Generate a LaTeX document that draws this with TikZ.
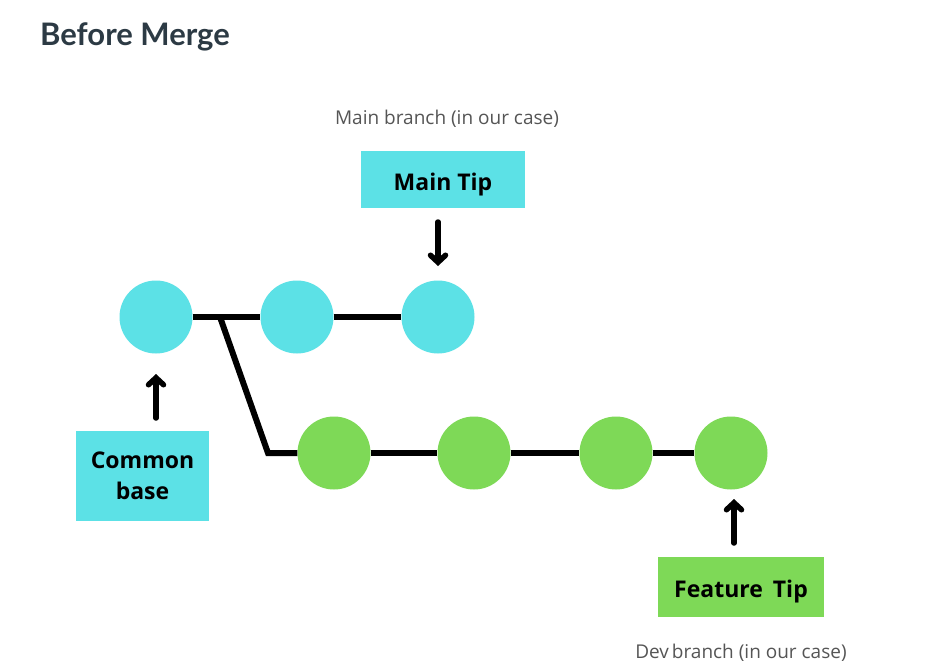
\documentclass[tikz,border=0pt]{standalone}
\usepackage{fontspec}
\setmainfont{Open Sans}
\newfontfamily\titlefont{Lato}
\usetikzlibrary{arrows.meta}
\definecolor{tcyan}{HTML}{5CE1E6}
\definecolor{tgreen}{HTML}{7ED957}
\definecolor{titlecol}{HTML}{2C3A44}
\definecolor{notecol}{HTML}{555555}
\begin{document}
\begin{tikzpicture}[x=1pt,y=-1pt,
  commit/.style={circle,minimum size=73pt,inner sep=0pt},
  cyancommit/.style={commit,fill=tcyan},
  greencommit/.style={commit,fill=tgreen},
  tagbox/.style={inner sep=0pt,font=\fontsize{23}{31}\selectfont\bfseries,align=center},
  note/.style={font=\fontsize{19}{22}\selectfont,text=notecol},
  branch/.style={line width=6pt},
  pointer/.style={line width=5.5pt,line cap=round,-{Straight Barb[length=7pt,width=15pt,line cap=round]}}
]
\useasboundingbox (0,0) rectangle (946,667);
\fill[white] (0,0) rectangle (946,667);

\node[anchor=base west,font=\titlefont\fontsize{31}{34}\selectfont\bfseries,text=titlecol,inner sep=0pt] (title) at (40,45) {Before Merge};

% commits
\node[cyancommit] (c1) at (156,317) {};
\node[cyancommit] (c2) at (297,317) {};
\node[cyancommit] (c3) at (438,317) {};
\node[greencommit] (g1) at (334,453) {};
\node[greencommit] (g2) at (474,453) {};
\node[greencommit] (g3) at (616,453) {};
\node[greencommit] (g4) at (731,453) {};

\coordinate (fork) at (220,317);
\coordinate (bend) at (268,453);

\draw[branch] (c1.east) -- (c2.west);
\draw[branch] (c2.east) -- (c3.west);
\draw[branch,line join=miter] (fork) -- (bend) -- (g1.west);
\draw[branch] (g1.east) -- (g2.west);
\draw[branch] (g2.east) -- (g3.west);
\draw[branch] (g3.east) -- (g4.west);

% boxes
\node[tagbox,fill=tcyan,minimum width=164pt,minimum height=57pt,text height=21.4pt,text depth=0pt] (maintip) at (443,179.5) {Main Tip};
\node[tagbox,fill=tcyan,minimum width=133pt,minimum height=90pt,yshift=-1pt] (base) at (142.5,475) {Common\\base};
\node[tagbox,fill=tgreen,minimum width=166pt,minimum height=60pt,text height=20.4pt,text depth=0pt] (feattip) at (741,587) {Feature\kern4pt{} Tip};

% notes
\node[note,anchor=base] (mainnote) at (447,124) {Main branch (in our case)};
\node[note,anchor=base] (devnote) at (741,658) {Dev\kern-2pt{} branch (in our case)};

% pointers
\coordinate (mt) at (438,222);
\draw[pointer] (mt) -- (438,266);
\coordinate (cb) at (156,418);
\draw[pointer] (cb) -- (156,374);
\coordinate (ft) at (734,543);
\draw[pointer] (ft) -- (734,499);
\end{tikzpicture}
\end{document}
